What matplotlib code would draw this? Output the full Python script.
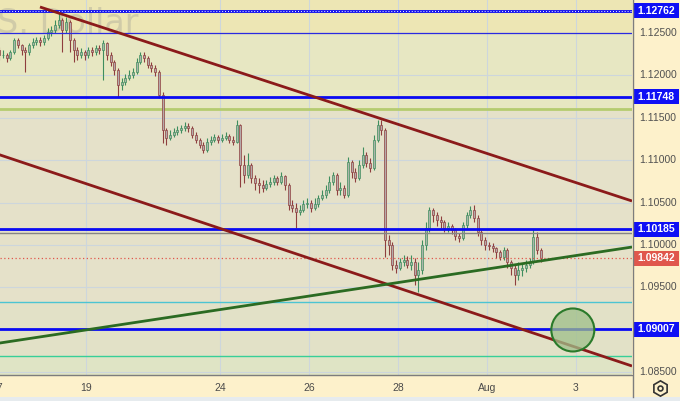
import numpy as np
import matplotlib.pyplot as plt
from matplotlib.patches import Rectangle, Ellipse
from matplotlib.lines import Line2D

# EUR/USD, 2-hour candles, trading days from 17 Jul (day 0)
first_open = 1.1230
close = [
    1.1224, 1.1224, 1.1221, 1.1228, 1.1242, 1.1236, 1.1230, 1.1228, 1.1236, 1.1239, 1.1242, 1.1239,  # 17
    1.1244, 1.1251, 1.1254, 1.1259, 1.1265, 1.1254, 1.1263, 1.1242, 1.1230, 1.1224, 1.1228, 1.1224,  # 18
    1.1230, 1.1228, 1.1232, 1.1230, 1.1238, 1.1224, 1.1216, 1.1206, 1.1189, 1.1192, 1.1197, 1.1200,  # 19
    1.1204, 1.1216, 1.1224, 1.1221, 1.1212, 1.1209, 1.1204, 1.1177, 1.1136, 1.1126, 1.1130, 1.1133,  # 20
    1.1136, 1.1138, 1.1140, 1.1138, 1.1130, 1.1124, 1.1118, 1.1112, 1.1121, 1.1124, 1.1127, 1.1124,  # 21
    1.1126, 1.1129, 1.1124, 1.1121, 1.1142, 1.1094, 1.1083, 1.1094, 1.1079, 1.1073, 1.1071, 1.1067,  # 24
    1.1072, 1.1074, 1.1079, 1.1074, 1.1081, 1.1071, 1.1047, 1.1044, 1.1039, 1.1041, 1.1048, 1.1050,  # 25
    1.1044, 1.1048, 1.1056, 1.1059, 1.1065, 1.1074, 1.1083, 1.1065, 1.1067, 1.1059, 1.1098, 1.1086,  # 26
    1.1079, 1.1094, 1.1106, 1.1097, 1.1091, 1.1124, 1.1142, 1.1136, 1.1006, 1.1000, 1.0976, 1.0973,  # 27
    1.0980, 1.0982, 1.0976, 1.0980, 1.0965, 1.0971, 1.1000, 1.1020, 1.1041, 1.1035, 1.1030, 1.1027,  # 28
    1.1020, 1.1022, 1.1018, 1.1011, 1.1008, 1.1024, 1.1035, 1.1041, 1.1032, 1.1015, 1.1006, 1.1000,  # 31
    1.0999, 1.0996, 1.0992, 1.0986, 1.0994, 1.0980, 1.0973, 1.0965, 1.0971, 1.0973, 1.0976, 1.0980,  # Aug 1
    1.1009, 1.0994, 1.09842,                                                                          # Aug 2
]
high = [
    1.1234, 1.1230, 1.1226, 1.1230, 1.1244, 1.1244, 1.1237, 1.1234, 1.1238, 1.1244, 1.1245, 1.1245,
    1.1248, 1.1256, 1.1258, 1.1265, 1.1274, 1.1268, 1.1269, 1.1265, 1.1244, 1.1234, 1.1232, 1.1230,
    1.1234, 1.1234, 1.1236, 1.1236, 1.1242, 1.1239, 1.1228, 1.1218, 1.1209, 1.1197, 1.1202, 1.1206,
    1.1209, 1.1221, 1.1228, 1.1228, 1.1223, 1.1216, 1.1212, 1.1206, 1.1180, 1.1138, 1.1136, 1.1138,
    1.1140, 1.1142, 1.1145, 1.1144, 1.1140, 1.1133, 1.1126, 1.1121, 1.1126, 1.1129, 1.1131, 1.1130,
    1.1131, 1.1133, 1.1131, 1.1129, 1.1147, 1.1143, 1.1106, 1.1108, 1.1097, 1.1083, 1.1079, 1.1077,
    1.1077, 1.1080, 1.1083, 1.1081, 1.1086, 1.1083, 1.1073, 1.1053, 1.1050, 1.1047, 1.1053, 1.1056,
    1.1053, 1.1056, 1.1059, 1.1065, 1.1071, 1.1081, 1.1086, 1.1085, 1.1074, 1.1071, 1.1104, 1.1100,
    1.1091, 1.1100, 1.1116, 1.1110, 1.1103, 1.1130, 1.1147, 1.1147, 1.1138, 1.1012, 1.1004, 1.0982,
    1.0985, 1.0988, 1.0987, 1.0988, 1.0985, 1.0980, 1.1006, 1.1027, 1.1045, 1.1044, 1.1039, 1.1034,
    1.1030, 1.1027, 1.1025, 1.1020, 1.1014, 1.1027, 1.1039, 1.1046, 1.1047, 1.1035, 1.1018, 1.1009,
    1.1004, 1.1002, 1.0998, 1.0994, 1.0998, 1.0996, 1.0982, 1.0976, 1.0980, 1.0979, 1.0982, 1.0985,
    1.1019, 1.1015, 1.0996,
]
low = [
    1.1218, 1.1221, 1.1216, 1.1218, 1.1225, 1.1232, 1.1224, 1.1204, 1.1224, 1.1232, 1.1236, 1.1235,
    1.1236, 1.1242, 1.1246, 1.1250, 1.1256, 1.1228, 1.1250, 1.1228, 1.1216, 1.1218, 1.1221, 1.1218,
    1.1221, 1.1223, 1.1224, 1.1225, 1.1195, 1.1218, 1.1211, 1.1200, 1.1175, 1.1183, 1.1189, 1.1195,
    1.1197, 1.1202, 1.1213, 1.1216, 1.1209, 1.1204, 1.1199, 1.1173, 1.1120, 1.1118, 1.1124, 1.1127,
    1.1130, 1.1132, 1.1134, 1.1133, 1.1126, 1.1120, 1.1114, 1.1108, 1.1110, 1.1118, 1.1121, 1.1120,
    1.1121, 1.1124, 1.1120, 1.1118, 1.1120, 1.1068, 1.1073, 1.1079, 1.1073, 1.1065, 1.1061, 1.1062,
    1.1065, 1.1068, 1.1071, 1.1071, 1.1072, 1.1065, 1.1041, 1.1039, 1.1020, 1.1035, 1.1039, 1.1044,
    1.1039, 1.1041, 1.1045, 1.1053, 1.1056, 1.1061, 1.1071, 1.1059, 1.1059, 1.1056, 1.1057, 1.1079,
    1.1074, 1.1077, 1.1091, 1.1092, 1.1086, 1.1088, 1.1121, 1.1130, 1.0986, 1.0988, 1.0971, 1.0967,
    1.0971, 1.0975, 1.0973, 1.0971, 1.0953, 1.0945, 1.0966, 1.0994, 1.1015, 1.1027, 1.1022, 1.1020,
    1.1015, 1.1015, 1.1013, 1.1006, 1.1004, 1.1006, 1.1020, 1.1032, 1.1027, 1.1011, 1.1000, 1.0994,
    1.0994, 1.0992, 1.0985, 1.0982, 1.0982, 1.0973, 1.0965, 1.0953, 1.0959, 1.0964, 1.0968, 1.0973,
    1.0978, 1.0989, 1.0980,
]
bars_per_day = 12

day_ticks = [2, 5, 7, 9, 11, 13]
day_labels = ['19', '24', '26', '28', 'Aug', '3']
first_day_label = '17'

price_ticks = [1.125, 1.12, 1.115, 1.11, 1.105, 1.10, 1.095, 1.085]
grid_prices = [1.125, 1.12, 1.115, 1.11, 1.105, 1.10, 1.095, 1.09, 1.085]
blue_levels = [1.12762, 1.11748, 1.10185, 1.09007]
thin_blue = 1.12500
green_zone = 1.11604
gray_level = 1.10142
cyan_level = 1.09328
teal_level = 1.08691
last_price = 1.09842

# trend lines (day, price)
upper_channel = [(0.955, 1.12807), (14.26, 1.10519)]
lower_channel = [(0.0, 1.11072), (14.26, 1.08573)]
support_line = [(0.0, 1.08840), (14.26, 1.09976)]
target = (12.93, 1.08998)

x_min, x_max = 0.056, 14.26
y_min, y_max = 1.08467, 1.128892

fig = plt.figure(figsize=(6.8, 4.01), dpi=100, facecolor='#fdf1cb')
ax = fig.add_axes([0, 26 / 401, 632 / 680, 375 / 401])
ax.set_xlim(x_min, x_max)
ax.set_ylim(y_min, y_max)

# background zones
ax.axhspan(1.1250, y_max, color='#ede6b4', zorder=0, lw=0)
ax.axhspan(green_zone, 1.1250, color='#e7e7c2', zorder=0, lw=0)
ax.axhspan(cyan_level, green_zone, color='#e5e1c9', zorder=0, lw=0)
ax.axhspan(teal_level, cyan_level, color='#e2e1c7', zorder=0, lw=0)
ax.axhspan(y_min, teal_level, color='#dfe4c5', zorder=0, lw=0)

for d in day_ticks:
    ax.axvline(d, color='#cdd6dc', lw=0.8, zorder=1)
for p in grid_prices:
    ax.axhline(p, color='#cdd6dc', lw=0.8, zorder=1)

# candles
opens = [first_open] + close[:-1]
n = len(close)
xs = (np.arange(n) + 0.5) / bars_per_day
for x, o, h, l, c in zip(xs, opens, high, low, close):
    if c >= o:
        face, edge = '#aab5aa', '#3e8e5e'
    else:
        face, edge = '#b5aaaa', '#8e3e3e'
    ax.vlines(x, l, h, colors=edge, lw=0.8, zorder=3)
    ax.bar(x, max(abs(c - o), 0.00003), bottom=min(o, c), width=0.045,
           color=face, edgecolor=edge, linewidth=0.5, zorder=3)

# horizontal levels
ax.axhline(green_zone, color='#b5cc70', lw=2, zorder=2)
ax.axhline(thin_blue, color='#2a2ae0', lw=0.9, zorder=4)
ax.axhline(gray_level, color='#858585', lw=1, zorder=4)
ax.axhline(cyan_level, color='#4cc4d2', lw=1, zorder=4)
ax.axhline(teal_level, color='#38cf98', lw=1, zorder=4)
for p in blue_levels:
    ax.axhline(p, color='#0a0af2', lw=2, zorder=4)
ax.axhline(blue_levels[0], color='white', lw=0.7, ls=(0, (1, 2)), zorder=4)
ax.axhline(last_price, color='#e0574c', lw=0.9, ls=(0, (1, 2)), zorder=4)

# trend lines
for line, col in [(upper_channel, '#8b1a1a'), (lower_channel, '#8b1a1a'), (support_line, '#2b6b22')]:
    (x0, y0), (x1, y1) = line
    ax.plot([x0, x1], [y0, y1], color=col, lw=2, zorder=5, solid_capstyle='butt')

ax.add_patch(Ellipse(target, 43 / 44.5, 43 / 8480, facecolor='#9fbf8a', alpha=0.75,
                     edgecolor='none', zorder=6))
ax.add_patch(Ellipse(target, 43 / 44.5, 43 / 8480, facecolor='none',
                     edgecolor='#2a7a2a', lw=1.5, zorder=6))

# watermark (symbol description, cut at the left edge)
ax.text(-0.015, 1.1250, 'S. Dollar', fontsize=24, color='#8f8f8f', alpha=0.3,
        va='baseline', ha='left', zorder=1)

# time axis
ax.set_xticks([])
ax.set_yticks([])
for s in ['top', 'left', 'right']:
    ax.spines[s].set_visible(False)
ax.spines['bottom'].set_color('#7d7d7d')
ax.spines['bottom'].set_linewidth(1)
xt = ax.get_xaxis_transform()
for d, lbl in zip([0] + day_ticks, [first_day_label] + day_labels):
    ax.text(d, -0.035, lbl, transform=xt, ha='center', va='center', fontsize=7.5,
            color='#4a4a4a', family='Liberation Sans', clip_on=False)

# price axis
ax2 = fig.add_axes([632 / 680, 26 / 401, 48 / 680, 375 / 401])
ax2.set_xlim(0, 48)
ax2.set_ylim(y_min, y_max)
ax2.set_facecolor('#fdf1cb')
ax2.set_xticks([])
ax2.set_yticks([])
for s in ax2.spines.values():
    s.set_visible(False)
for p in price_ticks:
    ax2.text(7, p, f'{p:.5f}', va='center', ha='left', fontsize=7.5, color='#505050',
             family='Liberation Sans', clip_on=True)
box_h = 15 / 8480
for p, col in [(v, '#0f0ff5') for v in blue_levels] + [(last_price, '#e0574c')]:
    ax2.add_patch(Rectangle((1, p - box_h / 2), 46, box_h, facecolor=col, edgecolor='none'))
    ax2.text(24, p, f'{p:.5f}', va='center', ha='center', fontsize=7.5, color='white',
             fontweight='bold', family='Liberation Sans')

fig.add_artist(Line2D([632.5 / 680, 632.5 / 680], [0.01, 1], color='#7d7d7d', lw=1,
                      transform=fig.transFigure))
fig.add_artist(Rectangle((0, 0), 1, 4 / 401, transform=fig.transFigure,
                         facecolor='#e6ebee', edgecolor='none'))
fig.add_artist(Line2D([660 / 680], [1 - 388 / 401], marker='h', ms=11, mfc='none',
                      mec='#333333', mew=1.2, transform=fig.transFigure))
fig.add_artist(Line2D([660 / 680], [1 - 388 / 401], marker='o', ms=3.5, mfc='none',
                      mec='#333333', mew=1.2, transform=fig.transFigure))

fig.savefig('out.png', dpi=100, facecolor=fig.get_facecolor())
